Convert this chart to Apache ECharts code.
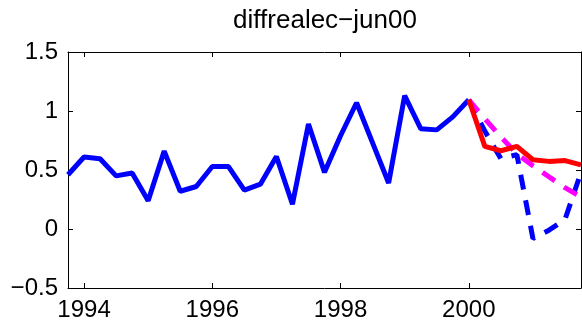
<!DOCTYPE html>
<html>
<head>
<meta charset="utf-8">
<script src="https://cdn.jsdelivr.net/npm/echarts@6/dist/echarts.min.js"></script>
<style>
html,body{margin:0;padding:0;background:#fff;}
#chart{width:582px;height:330px;}
</style>
</head>
<body>
<div id="chart"></div>
<script>
const titleText = 'diffrealec\u2212jun00';
const histDates = [1993.75, 1994.0, 1994.25, 1994.5, 1994.75, 1995.0, 1995.25, 1995.5, 1995.75,
  1996.0, 1996.25, 1996.5, 1996.75, 1997.0, 1997.25, 1997.5, 1997.75, 1998.0, 1998.25, 1998.5,
  1998.75, 1999.0, 1999.25, 1999.5, 1999.75, 2000.0];
const histValues = [0.46, 0.61, 0.595, 0.45, 0.475, 0.24, 0.66, 0.32, 0.36,
  0.53, 0.53, 0.33, 0.38, 0.615, 0.21, 0.89, 0.48, 0.79, 1.07, 0.73,
  0.39, 1.13, 0.85, 0.84, 0.95, 1.095];
const fcDates = [2000.0, 2000.25, 2000.5, 2000.75, 2001.0, 2001.25, 2001.5, 2001.75];
const redValues = [1.095, 0.70, 0.663, 0.70, 0.587, 0.573, 0.58, 0.544];
const magentaValues = [1.095, 0.934, 0.78, 0.638, 0.536, 0.443, 0.35, 0.27];
const blueDashValues = [1.095, 0.83, 0.596, 0.63, -0.08, -0.01, 0.08, 0.48];
const xTickYears = [1994, 1996, 1998, 2000];
const yMin = -0.5, yMax = 1.5, yStep = 0.5;

const FONT = '"Liberation Sans", Arial, Helvetica, sans-serif';
const pair = (xs, ys) => xs.map((x, i) => [x, ys[i]]);

const chart = echarts.init(document.getElementById('chart'), null, {renderer: 'canvas'});
const axisLine = {show: true, onZero: false, lineStyle: {color: '#000', width: 1}};
const tick = {show: true, inside: true, length: 5, lineStyle: {color: '#000', width: 1}};
const xBase = {type: 'value', min: 1993.75, max: 2001.75, splitLine: {show: false}, axisLine: axisLine};
const yBase = {type: 'value', min: yMin, max: yMax, interval: yStep, splitLine: {show: false}, axisLine: axisLine};

chart.setOption({
  animation: false,
  backgroundColor: '#fff',
  grid: {left: 68, top: 52, right: 1, bottom: 42},
  graphic: [{
    type: 'text', x: 325, y: 21,
    style: {text: titleText, align: 'center', verticalAlign: 'middle', font: '26px ' + FONT, fill: '#000'}
  }],
  xAxis: [
    Object.assign({}, xBase, {position: 'bottom',
      axisTick: Object.assign({}, tick, {customValues: xTickYears}),
      axisLabel: {show: true, customValues: xTickYears, color: '#000', fontSize: 24, fontFamily: FONT, margin: 10,
        formatter: v => String(v)}}),
    Object.assign({}, xBase, {position: 'top',
      axisTick: Object.assign({}, tick, {customValues: xTickYears}),
      axisLabel: {show: false}})
  ],
  yAxis: [
    Object.assign({}, yBase, {position: 'left', axisTick: tick,
      axisLabel: {show: true, color: '#000', fontSize: 24, fontFamily: FONT, margin: 10,
        formatter: v => String(v).replace('-', '\u2212')}}),
    Object.assign({}, yBase, {position: 'right', axisTick: tick, axisLabel: {show: false}})
  ],
  series: [
    {type: 'line', data: pair(histDates, histValues), showSymbol: false, symbol: 'none',
      lineStyle: {color: '#0000ff', width: 5}, z: 2},
    {type: 'line', data: pair(fcDates, blueDashValues), showSymbol: false, symbol: 'none',
      lineStyle: {color: '#0000ff', width: 5, type: [15, 11]}, z: 3},
    {type: 'line', data: pair(fcDates, magentaValues), showSymbol: false, symbol: 'none',
      lineStyle: {color: '#ff00ff', width: 5, type: [15, 11]}, z: 4},
    {type: 'line', data: pair(fcDates, redValues), showSymbol: false, symbol: 'none',
      lineStyle: {color: '#ff0000', width: 5}, z: 5}
  ]
});
</script>
</body>
</html>
